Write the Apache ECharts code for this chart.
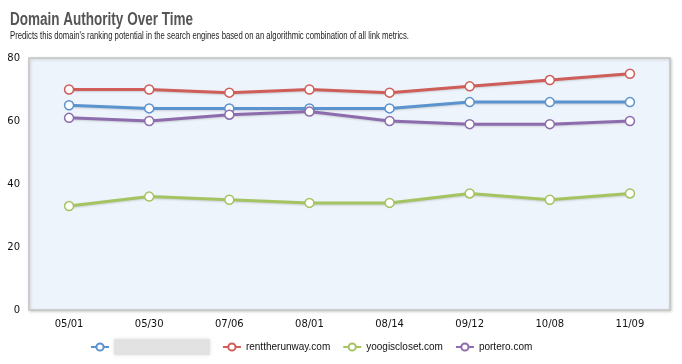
<!DOCTYPE html>
<html><head><meta charset="utf-8">
<script src="https://cdn.jsdelivr.net/npm/echarts@6/dist/echarts.min.js"></script>
<style>html,body{margin:0;padding:0;background:#fff}#c{width:682px;height:364px}</style>
</head><body><div id="c"></div>
<script>
const categories = ['05/01','05/30','07/06','08/01','08/14','09/12','10/08','11/09'];
const seriesNames = ['yourdomain.com','renttherunway.com','yoogiscloset.com','portero.com'];
const ownDomain = [65, 64, 64, 64, 64, 66, 66, 66];
const renttherunway = [70, 70, 69, 70, 69, 71, 73, 75];
const yoogiscloset = [33, 36, 35, 34, 34, 37, 35, 37];
const portero = [61, 60, 62, 63, 60, 59, 59, 60];
const yTicks = [0, 20, 40, 60, 80];
const colors = ['#5b93cf', '#cf5d58', '#a4c462', '#8d6cad'];
const titleText = 'Domain Authority Over Time';
const subText = "Predicts this domain's ranking potential in the search engines based on an algorithmic combination of all link metrics.";

const ctx = document.createElement('canvas').getContext('2d');
function fitScale(text, font, target) {
  ctx.font = font;
  return target / ctx.measureText(text).width;
}
const titleFont = 'bold 18px "Liberation Sans"';
const subFont = '10.5px "Liberation Sans"';

const chart = echarts.init(document.getElementById('c'));
const mk = (name, data, color) => ({
  name, type: 'line', data,
  symbol: 'circle', symbolSize: 9,
  lineStyle: { width: 3, color, shadowColor: 'rgba(0,0,0,0.15)', shadowBlur: 2, shadowOffsetY: 1 },
  itemStyle: { color: '#fff', borderColor: color, borderWidth: 1.5 },
  color, animation: false
});
chart.setOption({
  animation: false,
  graphic: [{
    type: 'text', x: 10, y: 20.5, scaleX: fitScale(titleText, titleFont, 183),
    style: { text: titleText, font: titleFont, fill: '#555', verticalAlign: 'middle', align: 'left' }
  }, {
    type: 'text', x: 10, y: 36.5, scaleX: fitScale(subText, subFont, 399),
    style: { text: subText, font: subFont, fill: '#222', verticalAlign: 'middle', align: 'left' }
  }],
  grid: {
    left: 29, top: 58, right: 12, bottom: 54, show: true,
    backgroundColor: '#eef4fb', borderColor: '#c4c4c4', borderWidth: 1.5,
    shadowColor: 'rgba(0,0,0,0.18)', shadowBlur: 3, shadowOffsetX: 1, shadowOffsetY: 1
  },
  xAxis: {
    type: 'category', data: categories, boundaryGap: true,
    axisLine: { show: false }, axisTick: { show: false },
    axisLabel: { color: '#111', fontSize: 10, fontFamily: 'DejaVu Sans', margin: 9 }
  },
  yAxis: {
    type: 'value', min: yTicks[0], max: yTicks[yTicks.length - 1], interval: 20,
    splitLine: { show: false }, axisLine: { show: false }, axisTick: { show: false },
    axisLabel: { color: '#111', fontSize: 10, fontFamily: 'DejaVu Sans', margin: 9 }
  },
  legend: {
    bottom: 4, left: 85, itemWidth: 18, itemHeight: 9, itemGap: 12,
    formatter: (n) => n === seriesNames[0] ? '{blur|' + n + '}' : n,
    textStyle: {
      fontFamily: 'Liberation Sans', fontSize: 10, color: '#111',
      rich: { blur: { color: 'rgba(0,0,0,0)', backgroundColor: '#e2e2e2', padding: [3, 11, 3, 11], shadowColor: '#e2e2e2', shadowBlur: 4 } }
    }
  },
  series: [
    mk(seriesNames[0], ownDomain, colors[0]),
    mk(seriesNames[1], renttherunway, colors[1]),
    mk(seriesNames[2], yoogiscloset, colors[2]),
    mk(seriesNames[3], portero, colors[3])
  ]
});
</script></body></html>
